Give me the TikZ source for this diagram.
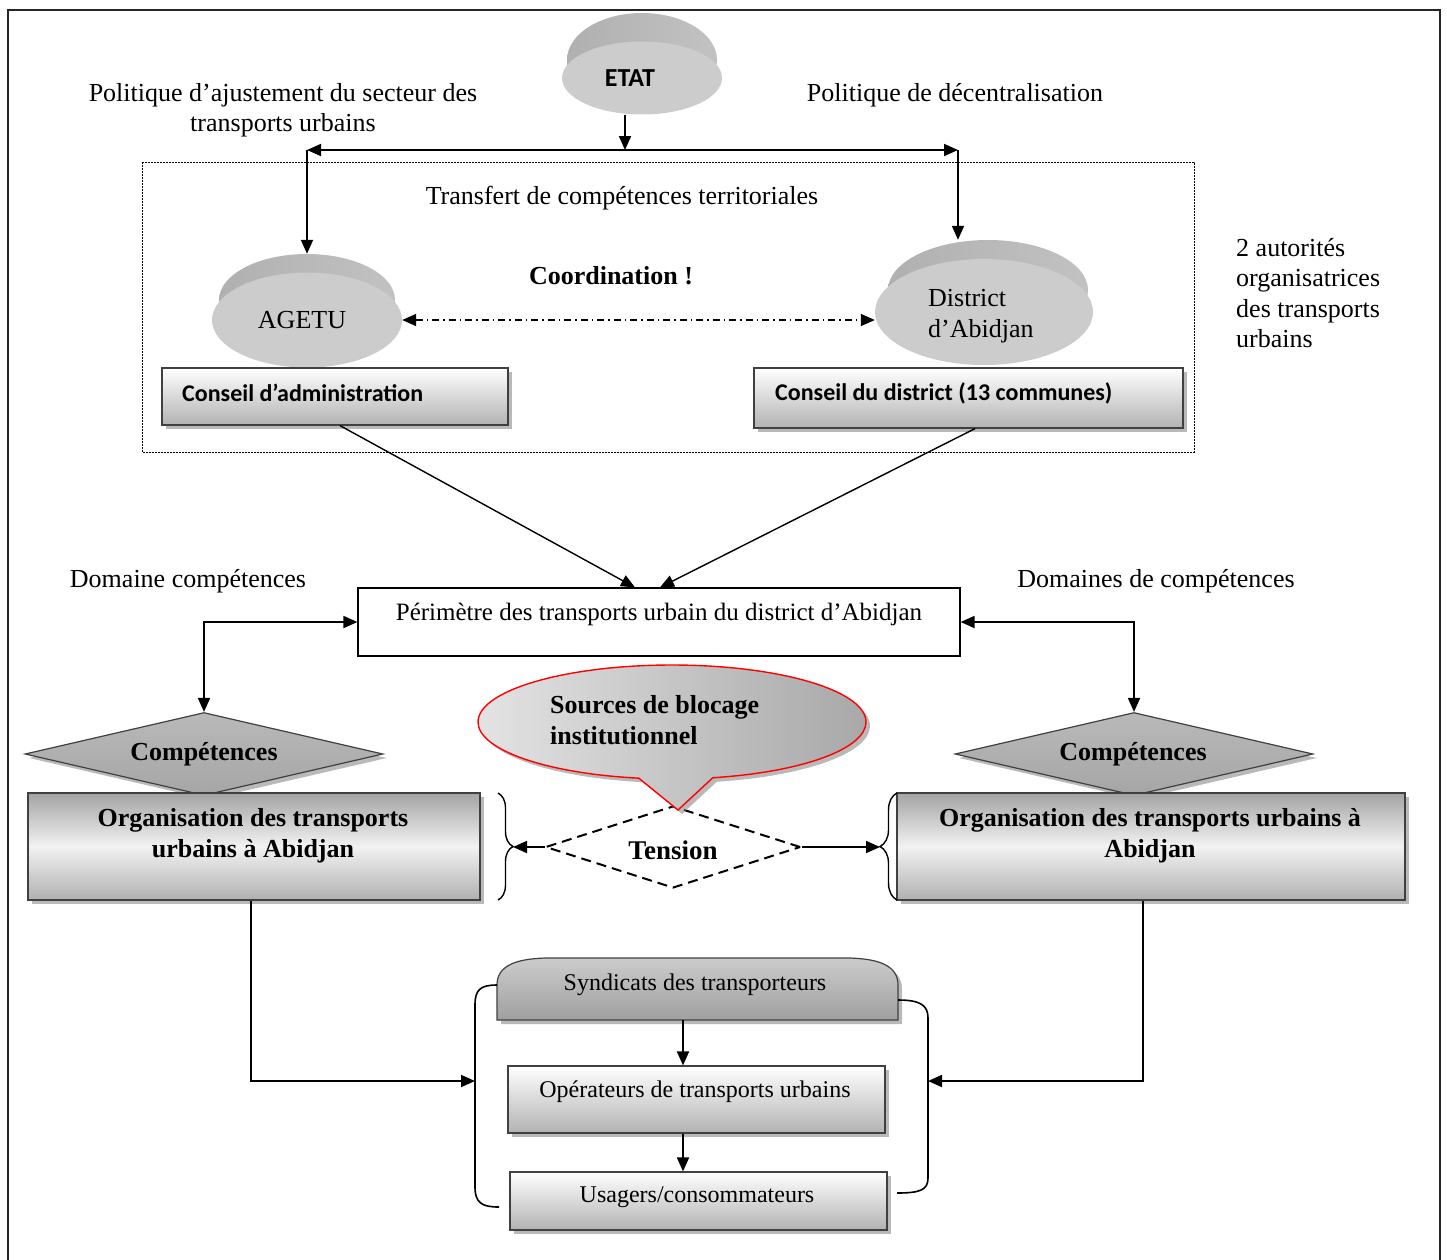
\documentclass[tikz,border=0pt]{standalone}
\usepackage{fontspec}
\setmainfont{Liberation Serif}
\newfontfamily\calib{Carlito}
\usetikzlibrary{arrows.meta,shapes.geometric,shapes.callouts,shadows,decorations.pathreplacing,calc}
\begin{document}
\begin{tikzpicture}[x=1pt,y=-1pt,
  >={Triangle[length=14pt,width=12pt]},
  conn/.style={line width=1.8pt,->},
  both/.style={line width=1.8pt,<->},
  tx/.style={font=\fontsize{26}{30.5}\selectfont,inner sep=0pt},
  bt/.style={font=\fontsize{26}{31}\selectfont\bfseries,inner sep=0pt},
  st/.style={font=\fontsize{24}{28}\selectfont,inner sep=0pt},
  ct/.style={font=\calib\bfseries\fontsize{24}{28}\selectfont,inner sep=0pt},
  face/.style={ellipse,fill=gray!40,inner sep=0pt},
  band/.style={ellipse,left color=gray!62,right color=gray!48,inner sep=0pt},
  shad/.style={drop shadow={shadow xshift=4pt,shadow yshift=-4pt,opacity=0.55,fill=gray}},
  wbox/.style={draw=gray!50!black,line width=1.2pt,top color=white,bottom color=gray!60,inner sep=0pt,shad},
  obox/.style={draw=gray!50!black,line width=1.4pt,top color=gray!72,bottom color=gray!62,middle color=gray!10,inner sep=0pt,shad},
  dia/.style={diamond,draw=gray!50!black,line width=1.2pt,top color=gray!55,bottom color=gray!70,inner sep=0pt,shad},
]
\useasboundingbox (0,0) rectangle (1447,1259);
\fill[white] (0,0) rectangle (1447,1259);
\draw[line width=2pt,black!85] (8,10) rectangle (1440,1275);

% ETAT
\node[band,minimum width=150pt,minimum height=94pt] (etatB) at (642,60) {};
\node[face,minimum width=160pt,minimum height=73pt] (etat) at (642,78) {};
\node[ct,font=\calib\bfseries\fontsize{26}{30}\selectfont] (etatT) at (630,78) {ETAT};

\node[tx,align=center] (polA) at (283,110) {Politique d’ajustement du secteur des\\transports urbains};
\node[tx] (polD) at (955,95) {Politique de décentralisation};

\coordinate (tl) at (307,150);
\coordinate (tr) at (958,150);
\coordinate (tm) at (625,150);
\draw[conn] (etat.south -| tm) -- (tm);
\draw[both] (tl) -- (tr);

% dotted frame
\draw[line width=0.9pt,dash pattern=on 1.6pt off 1.4pt] (142,162) rectangle (1194,452);
\node[tx] (transf) at (622,198) {Transfert de compétences territoriales};

% AGETU
\node[band,minimum width=176pt,minimum height=92pt] (agetuB) at (307,300) {};
\node[face,minimum width=190pt,minimum height=95pt] (agetu) at (307,320) {};
\node[tx] (agetuT) at (302,320) {AGETU};
% District
\node[band,minimum width=200pt,minimum height=100pt] (distB) at (988,290) {};
\node[face,minimum width=218pt,minimum height=106pt] (dist) at (984,312) {};
\node[tx,align=left,anchor=west] (distT) at (928,316) {District\\d’Abidjan};

\draw[conn] (tl) -- (agetuB.north -| tl);
\draw[conn] (tr) -- (distB.north -| tr);

\node[bt] (coord) at (611,276) {Coordination !};
\draw[both,line width=1.5pt,dash pattern=on 7pt off 4pt on 1.5pt off 4pt] (agetu.east) -- (agetu.east -| dist.west);

\node[tx,align=left,anchor=west] (aut) at (1236,293) {2 autorités\\organisatrices\\des transports\\urbains};

% Conseil boxes
\node[wbox,minimum width=346pt,minimum height=57pt] (cadm) at (335,396.5) {};
\node[ct,anchor=west] (cadmT) at (182,393) {Conseil d’administration};
\node[wbox,minimum width=429pt,minimum height=60pt] (cdist) at (968.5,398) {};
\node[ct,anchor=west] (cdistT) at (775,393) {Conseil du district (13 communes)};

% Perimetre
\node[draw,line width=1.2pt,fill=white,minimum width=602pt,minimum height=68pt,inner sep=0pt] (perim) at (659,622) {};
\node[st,font=\fontsize{25}{30}\selectfont] (perimT) at (659,614) {Périmètre des transports urbain du district d’Abidjan};

\draw[conn,line width=1.4pt] ([xshift=5pt]cadm.south) -- ([xshift=-24pt]perim.north);
\draw[conn,line width=1.4pt] ([xshift=6.5pt]cdist.south) -- ([xshift=1pt]perim.north);

\node[tx] (domL) at (188,581) {Domaine compétences};
\node[tx] (domR) at (1156,581) {Domaines de compétences};

% diamonds
\node[dia,minimum width=358pt,minimum height=83pt] (dL) at (204,754) {};
\node[bt] (dLT) at (204,754) {Compétences};
\node[dia,minimum width=358pt,minimum height=83pt] (dR) at (1134,754) {};
\node[bt] (dRT) at (1133,754) {Compétences};

\draw[both] (dL.north) |- (perim.west);
\draw[both] (dR.north) |- (perim.east);

% org boxes
\node[obox,minimum width=452pt,minimum height=107pt] (orgL) at (254,846.5) {};
\node[bt,align=center] (orgLT) at (253,835.5) {Organisation des transports\\urbains à Abidjan};
\node[obox,minimum width=508pt,minimum height=107pt] (orgR) at (1151,846.5) {};
\node[bt,align=center] (orgRT) at (1150,835.5) {Organisation des transports urbains à\\Abidjan};

% braces
\draw[line width=1.4pt,decorate,decoration={brace,amplitude=15pt}] (498,793) -- (498,900);
\draw[line width=1.4pt,decorate,decoration={brace,amplitude=17pt}] (897,900) -- (897,793);
\coordinate (bl) at (513,847);
\coordinate (br) at (880,847);

% tension
\node[diamond,draw,dash pattern=on 10pt off 6pt,line width=2pt,minimum width=255pt,minimum height=82pt,inner sep=0pt] (ten) at (673,847) {};
\node[bt,font=\fontsize{27}{31}\selectfont\bfseries] (tenT) at (673,850) {Tension};
\draw[conn] (ten.west) -- (bl);
\draw[conn] (ten.east) -- (br);

% callout
\node[ellipse callout,draw=red,line width=1.4pt,left color=gray!22,right color=gray!68,shad,
  minimum width=388pt,minimum height=114pt,inner sep=0pt,
  callout absolute pointer={(678,810)},callout pointer arc=22] (src) at (672,722) {};
\node[bt,align=left,anchor=west] (srcT) at (550,720) {Sources de blocage\\institutionnel};

% lower part
\begin{scope}[shift={(4,4)}]
\fill[gray,opacity=0.55] (497,1020) -- (497,985) .. controls (497,966) and (515,959) .. (545,958) -- (850,958) .. controls (880,959) and (898,966) .. (898,985) -- (898,1020) -- cycle;
\end{scope}
\draw[draw=gray!50!black,line width=1.2pt,top color=gray!40,bottom color=gray!75] (497,1020) -- (497,985) .. controls (497,966) and (515,959) .. (545,958) -- (850,958) .. controls (880,959) and (898,966) .. (898,985) -- (898,1020) -- cycle;
\node[minimum width=401pt,minimum height=62pt,inner sep=0pt] (syn) at (697.5,989) {};
\node[st] (synT) at (695,985) {Syndicats des transporteurs};

\node[wbox,minimum width=377pt,minimum height=67pt] (oper) at (696.5,1099.5) {};
\node[st] (operT) at (695,1092) {Opérateurs de transports urbains};
\node[wbox,minimum width=377pt,minimum height=58pt] (usa) at (698.5,1201) {};
\node[st] (usaT) at (697,1197) {Usagers/consommateurs};

\draw[conn] ([xshift=-14.5pt]syn.south) -- ([xshift=-13.5pt]oper.north);
\draw[conn] ([xshift=-13.5pt]oper.south) -- ([xshift=-15.5pt]usa.north);

\coordinate (lb) at (475,1081);
\coordinate (rb) at (928,1081);
\draw[line width=1.6pt] (497,985) .. controls (480,985) and (475,990) .. (475,1005) -- (475,1187) .. controls (475,1203) and (482,1207) .. (499,1207);
\draw[line width=1.6pt] (898,1000) .. controls (920,1000) and (928,1005) .. (928,1018) -- (928,1178) .. controls (928,1190) and (920,1193) .. (897,1193);

\draw[conn] ([xshift=-3pt]orgL.south) |- (lb);
\draw[conn] ([xshift=-8pt]orgR.south) |- (rb);
\end{tikzpicture}
\end{document}
